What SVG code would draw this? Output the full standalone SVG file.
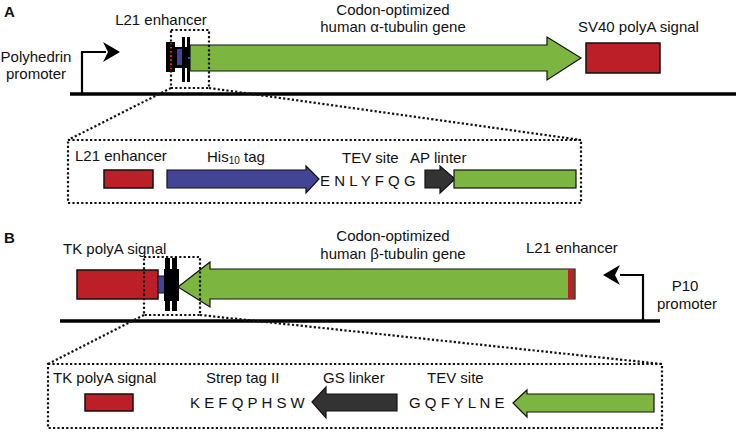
<svg xmlns="http://www.w3.org/2000/svg" width="736" height="432" viewBox="0 0 736 432">
<style>
text{font-family:"Liberation Sans",Arial,sans-serif;font-size:15px;fill:#111}
.pl{font-weight:bold;font-size:15px}
.mid{text-anchor:middle}
.red{fill:#bd1f29;stroke:#111;stroke-width:1.5}
.grn{fill:#7cb641;stroke:#111;stroke-width:1.2}
.blu{fill:#424495;stroke:#111;stroke-width:1.2}
.dk{fill:#333;stroke:#111;stroke-width:1.2}
.dot{fill:none;stroke:#111;stroke-width:2.2;stroke-dasharray:2.2 2.2}
.base{stroke:#000;stroke-width:3.5}
.prom{fill:none;stroke:#000;stroke-width:2.2}
</style>
<rect width="736" height="432" fill="#fff"/>

<!-- Panel A -->
<text class="pl" x="4" y="17">A</text>
<g id="baselineA"><line class="base" x1="70" y1="94" x2="736" y2="94"/></g>
<g id="polyhedrin-promoter">
<polyline class="prom" points="82,94 82,52 106,52"/>
<polygon points="120,52 103,42 108,52 103,62" fill="#000"/>
<text class="mid" x="36" y="62">Polyhedrin</text>
<text class="mid" x="36" y="79">promoter</text>
</g>
<g id="constructA">
<polygon class="grn" points="190,45 547,45 547,37 581,58 547,80 547,71 190,71"/>
<rect x="166" y="42" width="9" height="30" fill="#000"/>
<line x1="171" y1="43" x2="171" y2="71" stroke="#d22" stroke-width="2" stroke-dasharray="2 2"/>
<rect x="174" y="47" width="16" height="21" fill="#000"/>
<rect x="177" y="49" width="5" height="16" fill="#424495"/>
<rect x="182" y="37" width="3" height="45" fill="#000"/>
<rect x="187" y="37" width="3" height="45" fill="#000"/>
<rect x="188" y="57" width="3" height="2" fill="#424495"/>
<text class="mid" x="161" y="25">L21 enhancer</text>
<text class="mid" x="393" y="15">Codon-optimized</text>
<text class="mid" x="393" y="32">human α-tubulin gene</text>
</g>
<g id="sv40">
<rect class="red" x="586" y="43" width="74" height="30"/>
<text x="578" y="32">SV40 polyA signal</text>
</g>
<g id="zoomA">
<rect class="dot" x="171" y="30" width="38" height="58"/>
<line class="dot" x1="171" y1="88" x2="68" y2="140"/>
<line class="dot" x1="209" y1="88" x2="581" y2="140"/>
<rect class="dot" x="68" y="140" width="513" height="63"/>
</g>
<g id="detailA">
<text x="75" y="161">L21 enhancer</text>
<rect class="red" x="104" y="170" width="49" height="18"/>
<text x="207" y="162">His<tspan font-size="10" dy="2">10</tspan><tspan dy="-2"> tag</tspan><tspan fill="#999" font-size="8">.</tspan></text>
<polygon class="blu" points="167,170 306,170 306,166 319,179 306,193 306,188 167,188"/>
<text x="342" y="163">TEV site</text>
<text x="320" y="186">E N L Y F Q G</text>
<text x="410" y="163">AP linter</text>
<polygon class="dk" points="425,170 440,170 440,166 455,179 440,193 440,188 425,188"/>
<rect class="grn" x="454" y="170" width="122" height="18"/>
</g>

<!-- Panel B -->
<text class="pl" x="4" y="243">B</text>
<g id="baselineB"><line class="base" x1="60" y1="321" x2="660" y2="321"/></g>
<g id="p10-promoter">
<polyline class="prom" points="643,321 643,275 620,275"/>
<polygon points="603,275 620,265 615,275 620,285" fill="#000"/>
<text class="mid" x="685" y="291">P10</text>
<text class="mid" x="687" y="309">promoter</text>
</g>
<g id="tk">
<rect class="red" x="77" y="270" width="81" height="29"/>
<text x="63" y="254">TK polyA signal</text>
</g>
<g id="constructB">
<rect x="158" y="276" width="7" height="17" fill="#424495" stroke="#111" stroke-width="1"/>
<rect x="164" y="269" width="15" height="32" fill="#000"/>
<rect x="165" y="258" width="5" height="53" fill="#000"/>
<rect x="172" y="258" width="5" height="53" fill="#000"/>
<polygon class="grn" points="178,287 210,262 210,269 575,269 575,299 210,299 210,307"/>
<rect x="568" y="269" width="6" height="30" fill="#bd1f29"/>
<text class="mid" x="393" y="241">Codon-optimized</text>
<text class="mid" x="393" y="259">human β-tubulin gene</text>
<text x="526" y="253">L21 enhancer</text>
</g>
<g id="zoomB">
<rect class="dot" x="144" y="257" width="56" height="58"/>
<line class="dot" x1="144" y1="315" x2="48" y2="364"/>
<line class="dot" x1="200" y1="315" x2="662" y2="364"/>
<rect class="dot" x="48" y="364" width="614" height="64"/>
</g>
<g id="detailB">
<text x="53" y="383">TK polyA signal</text>
<rect class="red" x="85" y="394" width="48" height="17"/>
<text x="206" y="383">Strep tag II</text>
<text x="190" y="408">K E F Q P H S W</text>
<text x="323" y="383">GS linker</text>
<polygon class="dk" points="312,402 326,387 326,394 397,394 397,411 326,411 326,418"/>
<text x="427" y="383">TEV site</text>
<text x="409" y="408">G Q F Y L N E</text>
<polygon class="grn" points="513,403 527,390 527,394 654,394 654,412 527,412 527,417"/>
</g>
</svg>
